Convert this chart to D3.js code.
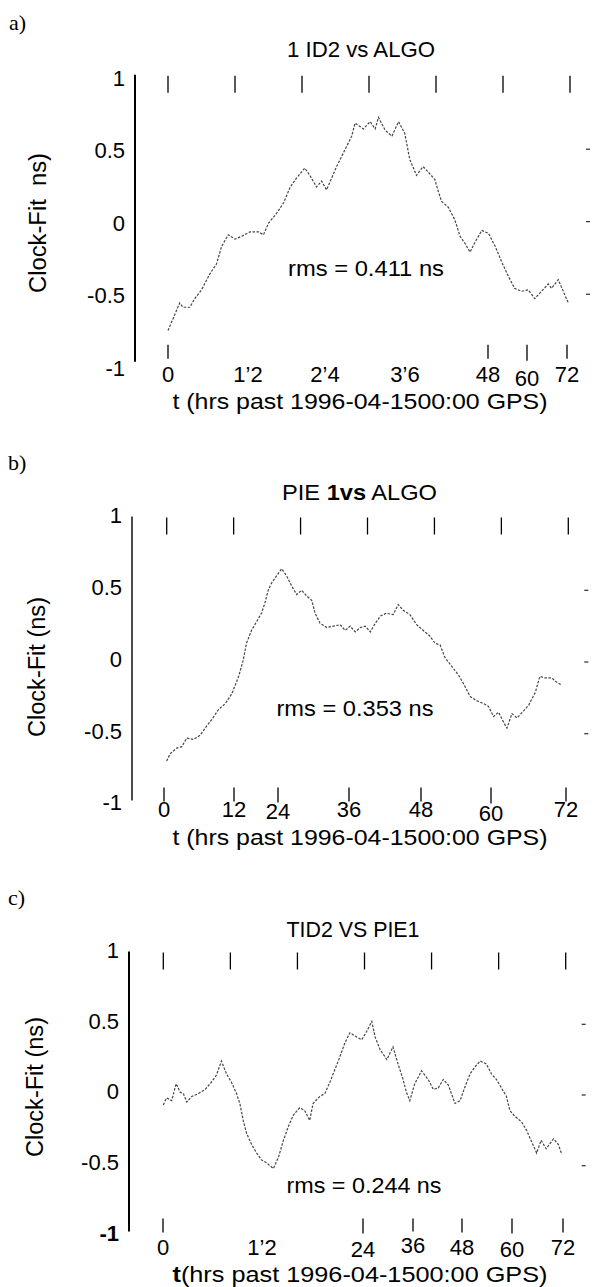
<!DOCTYPE html>
<html><head><meta charset="utf-8">
<script src="https://cdn.jsdelivr.net/npm/d3@7"></script>
<style>
body{margin:0;background:#fff;}
svg{display:block;font-family:"Liberation Sans",Arial,Helvetica,sans-serif;}
</style></head><body>
<svg id="chart" width="597" height="1287"></svg>
<script>
// ---- data ----
const hourTicks = [0,12,24,36,48,60,72];
const yTicks = [1,0.5,0,-0.5,-1];
const yTickLabels = ["1","0.5","0","-0.5","-1"];
const rightTicks = [0.5,0,-0.5];

const bottomLabelsA = ["0","1\u20192","2\u20194","3\u20196","48","60","72"];
const bottomLabelsB = ["0","12","24","36","48","60","72"];
const bottomLabelsC = ["0","1\u20192","24","36","48","60","72"];
const bottomTicksA = [0,48,60,72];
const bottomTicksB = [0,12,24,36,48,60,72];
const bottomTicksC = [0,24,36,48,60,72];

// a) 1 ID2 vs ALGO
const tA = [0,1,2.1,2.7,3.9,4.8,6,7.5,8.7,9.6,10.8,12,13.2,14.7,16.2,17.1,18,19.5,20.7,21.9,23,24.5,25.4,26.6,27.5,28.4,29.3,30.2,31.1,32,32.9,33.5,35,36.2,37.1,37.7,38.9,40.1,41.3,42.4,43.3,44.5,45.7,46.9,47.8,48.4,49,50.2,51.4,52.3,53.2,54.1,55,56.2,57.4,58.6,59.8,61,62.1,63.3,64.5,65.7,66.9,68.1,68.7,69.9,70.8,71.7];
const vA = [-0.75,-0.66,-0.56,-0.59,-0.59,-0.53,-0.47,-0.36,-0.29,-0.17,-0.09,-0.12,-0.10,-0.07,-0.07,-0.09,-0.01,0.06,0.13,0.24,0.30,0.37,0.32,0.24,0.28,0.22,0.30,0.38,0.45,0.52,0.59,0.68,0.64,0.69,0.64,0.72,0.63,0.59,0.69,0.61,0.43,0.32,0.38,0.33,0.29,0.21,0.14,0.10,0.01,-0.10,-0.15,-0.21,-0.14,-0.06,-0.08,-0.17,-0.28,-0.38,-0.46,-0.48,-0.47,-0.53,-0.48,-0.43,-0.46,-0.40,-0.48,-0.56];

// b) PIE1 vs ALGO
const tB = [0,0.6,1.8,2.7,3.6,4.8,6,6.9,8.1,9.3,10.5,11.7,12.9,13.7,14.3,15.2,16.1,17,17.6,18.2,18.8,19.7,20.6,21.5,22.4,23.3,24.2,25.1,26,26.6,27.5,28.7,29.9,31.1,32,32.9,33.8,34.7,35.6,36.5,37.4,38.3,39.4,40.6,41.5,42.4,43.6,44.8,46,47.2,48.1,49,49.9,51.1,52.3,53.2,54.4,55.6,56.8,57.7,58.6,59.5,60.4,61,61.9,62.8,64,64.9,66.1,66.9,67.8,69,69.9,70.8];
const vB = [-0.69,-0.64,-0.60,-0.59,-0.53,-0.54,-0.51,-0.46,-0.40,-0.33,-0.29,-0.22,-0.10,0.01,0.13,0.22,0.28,0.34,0.41,0.50,0.55,0.60,0.65,0.60,0.53,0.47,0.50,0.46,0.43,0.34,0.27,0.24,0.25,0.26,0.22,0.25,0.21,0.24,0.25,0.21,0.27,0.32,0.34,0.33,0.40,0.36,0.33,0.26,0.22,0.18,0.13,0.12,0.03,-0.03,-0.09,-0.15,-0.24,-0.27,-0.29,-0.31,-0.38,-0.35,-0.42,-0.46,-0.36,-0.39,-0.34,-0.30,-0.21,-0.10,-0.11,-0.11,-0.14,-0.16];

// c) TID2 vs PIE1
const tC = [0,0.6,1.5,2.3,3,3.6,4.2,5.1,6.3,7.5,8.6,9.5,10.4,11.3,12.2,13.1,13.7,14.3,14.9,15.8,16.7,17.6,18.5,19.7,20.6,21.5,22.4,23.3,24.4,25.3,26.2,26.8,28,28.9,29.8,30.7,31.6,32.5,33.4,34.6,35.5,36.4,37.3,37.9,38.8,40,41.1,42,42.9,43.5,44.1,45,46.2,47.4,48.3,49.2,50.1,51,52.2,53.1,54,54.9,55.8,56.7,57.8,58.7,59.6,60.5,61.4,62,62.9,64.1,65,65.9,66.8,67.6,68.5,69.8,70.7,71.3];
const vC = [-0.07,-0.02,-0.04,0.08,0.02,0.01,-0.05,-0.01,0.01,0.04,0.09,0.14,0.24,0.15,0.09,0.01,-0.06,-0.18,-0.27,-0.35,-0.41,-0.46,-0.48,-0.52,-0.44,-0.32,-0.22,-0.14,-0.09,-0.11,-0.18,-0.06,-0.01,0.01,0.09,0.18,0.27,0.37,0.44,0.41,0.39,0.45,0.52,0.41,0.32,0.25,0.34,0.22,0.11,0.02,-0.04,0.08,0.17,0.11,0.04,0.05,0.11,0.07,-0.06,-0.04,0.06,0.15,0.20,0.24,0.22,0.15,0.11,0.05,-0.01,-0.11,-0.15,-0.19,-0.25,-0.33,-0.41,-0.32,-0.38,-0.31,-0.35,-0.42];

// ---- panel layout ----
const panels = [
  {tag:"a)", title:[["1 ID2 vs ALGO",false]], yLabel:"Clock-Fit\u00a0\u00a0ns)", rms:"rms = 0.411 ns",
   xTitle:[["t (hrs past 1996-04-1500:00 GPS)",false]],
   bLabels:bottomLabelsA, bTicks:bottomTicksA, t:tA, v:vA,
   L:{zeroY:221.7, unit:145, x0:168, x72:570, axisX:135, axisW:2, tagX:9, tagY:30,
      titleX:361, titleY:57, titleLen:148, rmsX:366, rmsY:276, rmsLen:156,
      bRange:[168,248,325,405,488,527,567], bTickTop:-22, labelY:382, labelDy:[0,0,0,0,0,4,0],
      xTitleY:409, yLabX:46, yLabY:223, yTickDy:1, minusOneBold:false}},
  {tag:"b)", title:[["PIE ",false],["1vs",true],[" ALGO",false]], yLabel:"Clock-Fit (ns)", rms:"rms = 0.353 ns",
   xTitle:[["t (hrs past 1996-04-1500:00 GPS)",false]],
   bLabels:bottomLabelsB, bTicks:bottomTicksB, t:tB, v:vB,
   L:{zeroY:662, unit:143.5, x0:166.7, x72:568.3, axisX:132, axisW:1.4, tagX:8, tagY:470,
      titleX:359.5, titleY:500, titleLen:155, rmsX:355, rmsY:716, rmsLen:157,
      bRange:[164,234,278,349,421,491,566], bTickTop:-18, labelY:817, labelDy:[0,0,2,0,0,4,0],
      xTitleY:845, yLabX:45, yLabY:667, yTickDy:-3, minusOneBold:false}},
  {tag:"c)", title:[["TID2 VS PIE1",false]], yLabel:"Clock-Fit (ns)", rms:"rms = 0.244 ns",
   xTitle:[["t",true],["(hrs past 1996-04-1500:00 GPS)",false]],
   bLabels:bottomLabelsC, bTicks:bottomTicksC, t:tC, v:vC,
   L:{zeroY:1095, unit:141.5, x0:163.3, x72:565.7, axisX:129, axisW:2, tagX:8, tagY:905,
      titleX:353, titleY:937, titleLen:133, rmsX:364, rmsY:1193, rmsLen:155,
      bRange:[163,262,363,413,462,512,563], bTickTop:-18, labelY:1255, labelDy:[0,0,2,-2,0,2,0],
      xTitleY:1282, yLabX:43, yLabY:1087, yTickDy:-3.5, minusOneBold:true}}
];

const svg = d3.select("#chart");
svg.append("rect").attr("width",597).attr("height",1287).attr("fill","#fff");

panels.forEach(p => {
  const L = p.L;
  const g = svg.append("g");
  const x = d3.scaleLinear().domain([0,72]).range([L.x0, L.x72]);
  const xb = d3.scaleLinear().domain(hourTicks).range(L.bRange);
  const y = d3.scaleLinear().domain([-1,1]).range([L.zeroY + L.unit, L.zeroY - L.unit]);

  // panel tag
  g.append("text").attr("x",L.tagX).attr("y",L.tagY)
    .attr("font-family","'Liberation Serif','Times New Roman',serif").attr("font-size",22).text(p.tag);

  // title
  const tt = g.append("text").attr("x",L.titleX).attr("y",L.titleY).attr("text-anchor","middle")
    .attr("font-size",22).attr("textLength",L.titleLen).attr("lengthAdjust","spacingAndGlyphs");
  p.title.forEach(([s,b]) => tt.append("tspan").attr("font-weight", b ? "bold" : "normal").text(s));

  // left axis line
  g.append("line").attr("x1",L.axisX).attr("x2",L.axisX)
    .attr("y1",y(1)-2).attr("y2",y(-1)-5).attr("stroke","#000").attr("stroke-width",L.axisW);

  // y tick labels
  g.selectAll(".ytl").data(yTicks).join("text")
    .attr("x",L.axisX-10).attr("y",d => y(d)+L.yTickDy).attr("dy","0.36em")
    .attr("text-anchor","end").attr("font-size",22)
    .attr("font-weight",(d,i) => (L.minusOneBold && d===-1) ? "bold" : "normal")
    .text((d,i) => yTickLabels[i]);

  // y axis label
  g.append("text").attr("transform",`translate(${L.yLabX},${L.yLabY}) rotate(-90)`)
    .attr("text-anchor","middle").attr("font-size",23)
    .attr("textLength",140).attr("lengthAdjust","spacingAndGlyphs").text(p.yLabel);

  // top ticks
  g.selectAll(".tt").data(hourTicks).join("line")
    .attr("x1",d=>x(d)).attr("x2",d=>x(d)).attr("y1",y(1)-1).attr("y2",y(1)+16)
    .attr("stroke","#000").attr("stroke-width",1.3);

  // right small ticks
  g.selectAll(".rt").data(rightTicks).join("line")
    .attr("x1",x(72)+16).attr("x2",x(72)+20).attr("y1",d=>y(d)).attr("y2",d=>y(d))
    .attr("stroke","#000").attr("stroke-width",1);

  // bottom ticks
  g.selectAll(".bt").data(p.bTicks).join("line")
    .attr("x1",d=>xb(d)).attr("x2",d=>xb(d))
    .attr("y1",y(-1)+L.bTickTop).attr("y2",d=>y(-1)+L.bTickTop+14+L.labelDy[hourTicks.indexOf(d)]*0.5)
    .attr("stroke","#000").attr("stroke-width",1.3);

  // bottom labels
  g.selectAll(".bl").data(hourTicks).join("text")
    .attr("x",d=>xb(d)).attr("y",(d,i)=>L.labelY+L.labelDy[i])
    .attr("text-anchor","middle").attr("font-size",22)
    .text((d,i)=>p.bLabels[i]);

  // x title
  const xt = g.append("text").attr("x",360).attr("y",L.xTitleY).attr("text-anchor","middle")
    .attr("font-size",22).attr("textLength",375).attr("lengthAdjust","spacingAndGlyphs");
  p.xTitle.forEach(([s,b]) => xt.append("tspan").attr("font-weight", b ? "bold" : "normal").text(s));

  // data line
  const line = d3.line().x(d=>x(d[0])).y(d=>y(d[1]));
  g.append("path").datum(d3.zip(p.t,p.v)).attr("d",line)
    .attr("fill","none").attr("stroke","#444").attr("stroke-width",1.2)
    .attr("stroke-dasharray","2.5,1.5");

  // rms annotation
  g.append("text").attr("x",L.rmsX).attr("y",L.rmsY).attr("text-anchor","middle")
    .attr("font-size",22).attr("textLength",L.rmsLen).attr("lengthAdjust","spacingAndGlyphs")
    .text(p.rms);
});
</script>
</body></html>
